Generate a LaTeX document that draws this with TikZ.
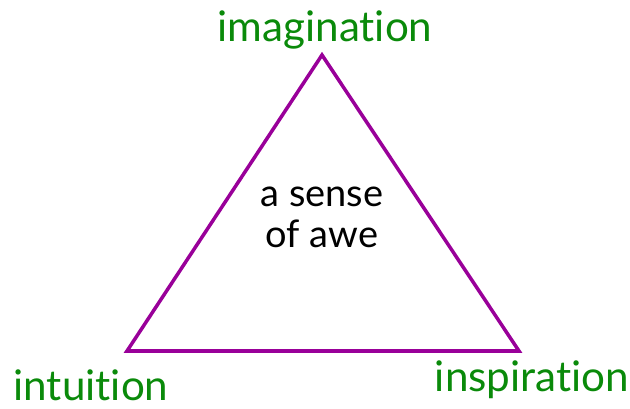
\documentclass[tikz,border=0pt]{standalone}
\usepackage{fontspec}
\setmainfont{Lato}[Ligatures={NoCommon,NoRequired}]
\usepackage{tikz}
\usetikzlibrary{positioning}
\definecolor{awepurple}{HTML}{990099}
\definecolor{awegreen}{HTML}{0A8A0A}
\tikzset{
  edge/.style  ={draw=awepurple, line width=2.5pt, line join=miter},
  virtue/.style={text=awegreen, font=\fontsize{30}{32}\selectfont, inner sep=0pt},
  core/.style  ={text=black, font=\fontsize{27}{29}\selectfont, align=center, inner sep=0pt},
}
\begin{document}
\begin{tikzpicture}[x=0.025cm,y=-0.025cm]
      \useasboundingbox (0,0) rectangle (630,408);
      \coordinate (top)   at (322,55);
      \coordinate (left)  at (127,351);
      \coordinate (right) at (519,351);
      \draw[edge] (top) -- (left) -- (right) -- cycle;
      \node[virtue] (imag) at (325,30)  {imagination};
      \node[virtue] (intu) at (91,385)  {intuition};
      \node[virtue] (insp) at (532,380) {inspiration};
      \node[core]   (awe)  at (322,217) {a sense\\of awe};
    \end{tikzpicture}
\end{document}
